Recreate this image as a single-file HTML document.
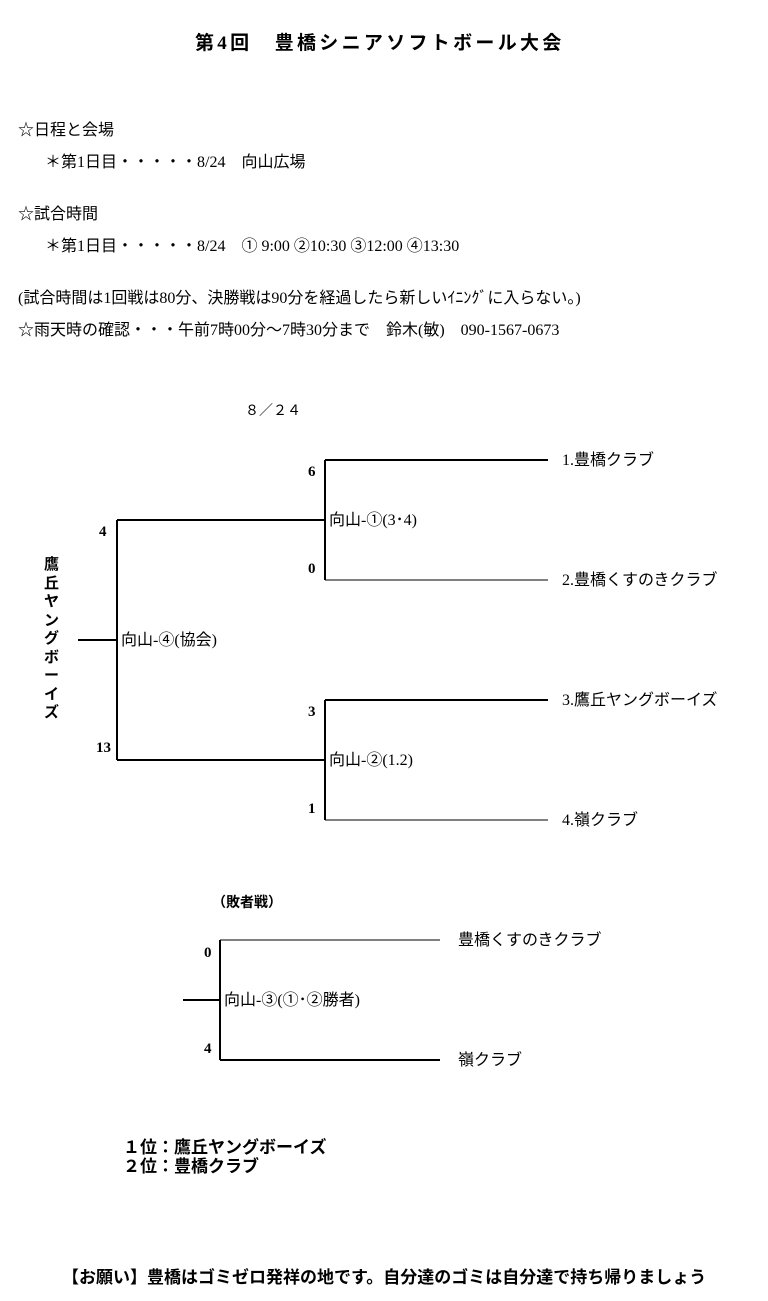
<!DOCTYPE html>
<html><head><meta charset="utf-8"><style>
body{margin:0;width:768px;height:1301px;background:#fff;position:relative;font-family:"Liberation Serif","Noto Sans CJK JP",serif;font-size:16px;color:#000;overflow:hidden}
.t{position:absolute;white-space:nowrap;line-height:1}
.b{font-weight:bold}
svg{position:absolute;left:0;top:0}
</style></head><body>
<div class="t b" style="left:195px;top:34px;font-size:19px;letter-spacing:3.3px">第4回　豊橋シニアソフトボール大会</div>
<div class="t" style="left:18px;top:123px">☆日程と会場</div>
<div class="t" style="left:45px;top:155px">＊第1日目・・・・・8/24　向山広場</div>
<div class="t" style="left:18px;top:207px">☆試合時間</div>
<div class="t" style="left:45px;top:239px">＊第1日目・・・・・8/24　① 9:00 ②10:30 ③12:00 ④13:30</div>
<div class="t" style="left:18px;top:291px">(試合時間は1回戦は80分、決勝戦は90分を経過したら新しいｲﾆﾝｸﾞに入らない。)</div>
<div class="t" style="left:18px;top:323px">☆雨天時の確認・・・午前7時00分～7時30分まで　鈴木(敏)　090-1567-0673</div>
<div class="t" style="left:245px;top:405px;font-size:14px">８／２４</div>
<svg width="768" height="1301">
<g stroke="#000" fill="none">
<path d="M325 460V580M325 700V820M117 520V760M220 940V1060" stroke-width="2"/>
<path d="M325 460H548M117 520H325M78 640H117M325 700H548M117 760H325M183 1000H220M220 1060H440" stroke-width="2"/>
<path d="M325 580H548M325 820H548M220 940H440" stroke-width="1"/>
</g></svg>
<div class="t b" style="left:308px;top:465px;font-size:15px">6</div>
<div class="t b" style="left:308px;top:562px;font-size:15px">0</div>
<div class="t b" style="left:308px;top:705px;font-size:15px">3</div>
<div class="t b" style="left:308px;top:802px;font-size:15px">1</div>
<div class="t b" style="left:99px;top:525px;font-size:15px">4</div>
<div class="t b" style="left:96px;top:741px;font-size:15px">13</div>
<div class="t" style="left:329px;top:513px">向山-①(3･4)</div>
<div class="t" style="left:329px;top:753px">向山-②(1.2)</div>
<div class="t" style="left:121px;top:633px">向山-④(協会)</div>
<div class="t" style="left:562px;top:453px">1.豊橋クラブ</div>
<div class="t" style="left:562px;top:573px">2.豊橋くすのきクラブ</div>
<div class="t" style="left:562px;top:693px">3.鷹丘ヤングボーイズ</div>
<div class="t" style="left:562px;top:813px">4.嶺クラブ</div>
<div class="t b" style="left:44px;top:556px;font-size:15px;line-height:18.5px;white-space:normal;width:16px">鷹丘ヤングボーイズ</div>
<div class="t b" style="left:212px;top:897px;font-size:14px">（敗者戦）</div>
<div class="t b" style="left:204px;top:946px;font-size:15px">0</div>
<div class="t b" style="left:204px;top:1042px;font-size:15px">4</div>
<div class="t" style="left:224px;top:993px">向山-③(①･②勝者)</div>
<div class="t" style="left:458px;top:933px">豊橋くすのきクラブ</div>
<div class="t" style="left:458px;top:1053px">嶺クラブ</div>
<div class="t b" style="left:123px;top:1139px;font-size:17px">１位：鷹丘ヤングボーイズ</div>
<div class="t b" style="left:123px;top:1158px;font-size:17px">２位：豊橋クラブ</div>
<div class="t b" style="left:62px;top:1269px;font-size:17px">【お願い】豊橋はゴミゼロ発祥の地です。自分達のゴミは自分達で持ち帰りましょう</div>
</body></html>
